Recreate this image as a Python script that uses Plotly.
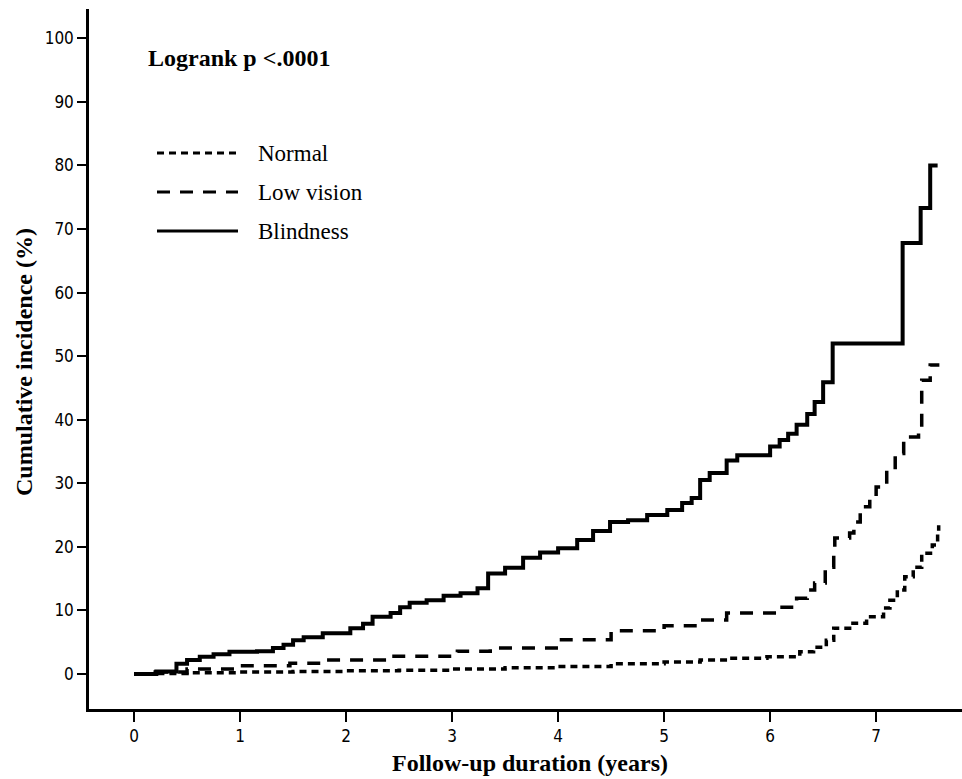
import plotly.graph_objects as go

# Cumulative incidence (%) step data
normal_t = [0, 0.2, 0.5, 1.0, 1.5, 2.0, 2.5, 3.0, 3.5, 4.0, 4.5, 5.0, 5.34, 5.6, 5.97, 6.28, 6.41, 6.53,
            6.6, 6.75, 6.91, 7.07, 7.13, 7.2, 7.27, 7.35, 7.43, 7.53, 7.58, 7.59]
normal_v = [0, 0.1, 0.2, 0.3, 0.4, 0.5, 0.6, 0.8, 1.0, 1.2, 1.6, 1.9, 2.2, 2.5, 2.7, 3.5, 4.2, 5.3,
            7.2, 8.0, 9.0, 10.4, 11.6, 13.2, 15.3, 16.8, 19.0, 20.3, 22.1, 23.4]

low_t = [0, 0.2, 0.5, 1.0, 1.47, 1.78, 2.42, 3.05, 3.36, 4.0, 4.5, 5.0, 5.34, 5.59, 6.09, 6.25, 6.35,
         6.42, 6.52, 6.6, 6.61, 6.75, 6.79, 6.85, 6.94, 7.0, 7.1, 7.18, 7.26, 7.4, 7.43, 7.51, 7.58]
low_v = [0, 0.3, 0.8, 1.3, 1.7, 2.2, 2.8, 3.6, 4.1, 5.4, 6.8, 7.6, 8.5, 9.6, 10.5, 11.9, 13.2,
         14.3, 16.8, 19.0, 21.4, 22.2, 23.9, 26.3, 27.8, 29.4, 32.1, 34.7, 37.3, 38.7, 46.2, 48.6, 48.9]

blind_t = [0, 0.21, 0.4, 0.5, 0.62, 0.75, 0.9, 1.16, 1.31, 1.41, 1.5, 1.6, 1.78, 2.04, 2.16, 2.25,
           2.42, 2.51, 2.6, 2.76, 2.92, 3.08, 3.24, 3.34, 3.5, 3.67, 3.83, 4.0, 4.18, 4.33, 4.49,
           4.66, 4.84, 5.03, 5.17, 5.26, 5.34, 5.43, 5.59, 5.69, 6.0, 6.09, 6.17, 6.25, 6.35, 6.42,
           6.5, 6.59, 7.25, 7.42, 7.51, 7.58]
blind_v = [0, 0.4, 1.6, 2.2, 2.7, 3.1, 3.5, 3.6, 4.1, 4.6, 5.3, 5.8, 6.4, 7.2, 7.9, 9.0,
           9.6, 10.5, 11.2, 11.6, 12.3, 12.7, 13.5, 15.8, 16.7, 18.3, 19.1, 19.8, 21.1, 22.5, 23.9,
           24.2, 25.0, 25.8, 26.9, 27.7, 30.5, 31.6, 33.6, 34.4, 35.8, 36.8, 37.8, 39.2, 40.9, 42.8,
           45.9, 52.0, 67.8, 73.3, 80.0, 80.0]

x_ticks = [0, 1, 2, 3, 4, 5, 6, 7]
y_ticks = [0, 10, 20, 30, 40, 50, 60, 70, 80, 90, 100]

legend_names = ["Normal", "Low vision", "Blindness"]
legend_dashes = ["7px,5px", "13px,10px", "solid"]

SERIF = "Liberation Serif, Times New Roman, serif"
NARROW = "Liberation Sans Narrow, DejaVu Sans Condensed, Arial Narrow, sans-serif"

fig = go.Figure()
fig.add_trace(go.Scatter(x=normal_t, y=normal_v, mode="lines", line_shape="hv",
                         line=dict(color="black", width=3.5, dash=legend_dashes[0]),
                         name=legend_names[0], showlegend=False))
fig.add_trace(go.Scatter(x=low_t, y=low_v, mode="lines", line_shape="hv",
                         line=dict(color="black", width=3.5, dash=legend_dashes[1]),
                         name=legend_names[1], showlegend=False))
fig.add_trace(go.Scatter(x=blind_t, y=blind_v, mode="lines", line_shape="hv",
                         line=dict(color="black", width=4),
                         name=legend_names[2], showlegend=False))

# Manual legend (paper coordinates)
L, T, W, H = 89, 9, 873, 700
def px(x):
    return (x - L) / W
def py(y):
    return (T + H - y) / H

leg_y = [153, 192, 231]
for name, dash, yy in zip(legend_names, legend_dashes, leg_y):
    fig.add_shape(type="line", xref="paper", yref="paper",
                  x0=px(157), x1=px(238), y0=py(yy), y1=py(yy),
                  line=dict(color="black", width=3, dash=dash))
    fig.add_annotation(xref="paper", yref="paper", x=px(256), y=py(yy),
                       text=name, showarrow=False, xanchor="left", yanchor="middle",
                       font=dict(family=SERIF, size=23, color="black"))

fig.add_annotation(xref="paper", yref="paper", x=px(146), y=py(58),
                   text="<b>Logrank p &lt;.0001</b>", showarrow=False,
                   xanchor="left", yanchor="middle",
                   font=dict(family=SERIF, size=24, color="black"))

# Axis titles
fig.add_annotation(xref="paper", yref="paper", x=px(530), y=py(763),
                   text="<b>Follow-up duration (years)</b>", showarrow=False,
                   xanchor="center", yanchor="middle",
                   font=dict(family=SERIF, size=24, color="black"))
fig.add_annotation(xref="paper", yref="paper", x=px(24), y=py(362),
                   text="<b>Cumulative incidence (%)</b>", showarrow=False, textangle=-90,
                   xanchor="center", yanchor="middle",
                   font=dict(family=SERIF, size=24, color="black"))

fig.update_layout(
    width=962, height=779,
    margin=dict(l=L, r=0, t=T, b=779 - T - H),
    paper_bgcolor="white", plot_bgcolor="white",
    showlegend=False,
    xaxis=dict(range=[-0.425, 7.81], tickvals=x_ticks, ticktext=[str(v) for v in x_ticks],
               automargin=False,
               showgrid=False, zeroline=False, showline=True, linecolor="black", linewidth=2.5,
               ticks="outside", ticklen=10, tickwidth=2, tickcolor="black",
               tickfont=dict(family=NARROW, size=17, color="black")),
    yaxis=dict(range=[-5.5, 104.6], tickvals=y_ticks, ticktext=[str(v) for v in y_ticks],
               automargin=False,
               showgrid=False, zeroline=False, showline=True, linecolor="black", linewidth=2.5,
               ticks="outside", ticklen=9, tickwidth=2, tickcolor="black",
               tickfont=dict(family=NARROW, size=17, color="black")),
)

fig.write_html("out.html", config={"displayModeBar": False},
               post_script="document.body.style.margin='0';document.body.style.overflow='hidden';")
